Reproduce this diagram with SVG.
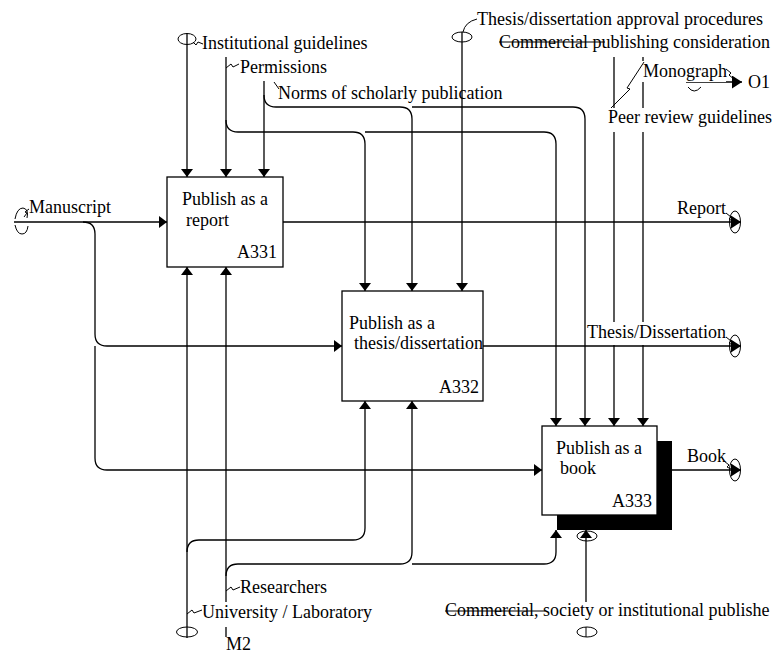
<svg xmlns="http://www.w3.org/2000/svg" width="773" height="655" viewBox="0 0 773 655">
<style>
  .t { font-family: "Liberation Serif", "Times New Roman", serif; font-size: 18px; fill: #000; }
  .ln { fill: none; stroke: #000; stroke-width: 1.3; }
  .thin { fill: none; stroke: #000; stroke-width: 1; }
  .box { fill: #fff; stroke: #000; stroke-width: 1.3; }
  .bg { fill: #fff; stroke: none; }
</style>
<defs>
  <marker id="ah" viewBox="0 0 8 12" refX="8" refY="6" markerWidth="8" markerHeight="12" markerUnits="userSpaceOnUse" orient="auto">
    <path d="M0,0 L8,6 L0,12 z" fill="#000"/>
  </marker>
  <marker id="ahb" viewBox="0 0 10 13" refX="10" refY="6.5" markerWidth="10" markerHeight="13" markerUnits="userSpaceOnUse" orient="auto">
    <path d="M0,0 L10,6.5 L0,13 z" fill="#000"/>
  </marker>
</defs>
<rect width="773" height="655" fill="#fff"/>

<g id="connectors">
  <!-- controls -->
  <path class="ln" d="M187,33 V177" marker-end="url(#ah)"/>
  <path class="ln" d="M226,57 V177" marker-end="url(#ah)"/>
  <path class="ln" d="M226,120 Q226,132 238,132 H353 Q365,132 365,144 V291" marker-end="url(#ah)"/>
  <path class="ln" d="M365,132 H544 Q556,132 556,144 V426" marker-end="url(#ah)"/>
  <path class="ln" d="M264,81 V177" marker-end="url(#ah)"/>
  <path class="ln" d="M264,95 Q264,107 276,107 H400 Q412,107 412,119 V291" marker-end="url(#ah)"/>
  <path class="ln" d="M412,107 H573 Q585,107 585,119 V426" marker-end="url(#ah)"/>
  <path class="ln" d="M462,32 V291" marker-end="url(#ah)"/>
  <path class="ln" d="M614,57 V426" marker-end="url(#ah)"/>
  <path class="ln" d="M643,57 V426" marker-end="url(#ah)"/>
  <!-- inputs -->
  <path class="ln" d="M14,222 H167" marker-end="url(#ah)"/>
  <path class="ln" d="M83,222 Q95,222 95,234 V334 Q95,346 107,346 H342" marker-end="url(#ah)"/>
  <path class="ln" d="M95,346 V458 Q95,470 107,470 H542" marker-end="url(#ah)"/>
  <!-- outputs -->
  <path class="ln" d="M283,222 H741" marker-end="url(#ahb)"/>
  <path class="ln" d="M483,346 H741" marker-end="url(#ahb)"/>
  <path class="ln" d="M672,470 H741" marker-end="url(#ahb)"/>
  <path class="ln" d="M686,82 H742" marker-end="url(#ahb)"/>
  <!-- mechanisms -->
  <path class="ln" d="M187,638 V267" marker-end="url(#ah)"/>
  <path class="ln" d="M187,552 Q187,540 199,540 H353 Q365,540 365,528 V401" marker-end="url(#ah)"/>
  <path class="ln" d="M226,637 V267" marker-end="url(#ah)"/>
  <path class="ln" d="M226,576 Q226,564 238,564 H400 Q412,564 412,552 V401" marker-end="url(#ah)"/>
  <path class="ln" d="M412,564 H544 Q556,564 556,552 V530" marker-end="url(#ah)"/>
  <path class="ln" d="M586,602 V530" marker-end="url(#ah)"/>
</g>

<g id="A331">
  <rect class="box" x="167" y="177" width="116" height="90"/>
  <text class="t" x="182" y="205">Publish as a</text>
  <text class="t" x="186" y="226">report</text>
  <text class="t" x="277" y="258" text-anchor="end">A331</text>
</g>

<g id="A332">
  <rect class="box" x="342" y="291" width="141" height="110"/>
  <text class="t" x="349" y="329">Publish as a</text>
  <text class="t" x="354" y="349">thesis/dissertation</text>
  <text class="t" x="479" y="393" text-anchor="end">A332</text>
</g>

<g id="A333">
  <rect x="557" y="441" width="115" height="89" fill="#000"/>
  <rect class="box" x="542" y="426" width="115" height="89"/>
  <text class="t" x="556" y="454">Publish as a</text>
  <text class="t" x="560" y="474">book</text>
  <text class="t" x="652" y="507" text-anchor="end">A333</text>
</g>

<g id="label-institutional">
  <ellipse class="thin" cx="187" cy="39" rx="9" ry="5.5"/>
  <path class="thin" d="M193,42 L196,45 L198,42 L203,44"/>
  <text class="t" x="202" y="49">Institutional guidelines</text>
</g>
<g id="label-permissions">
  <path class="thin" d="M226,68 L231,64 L233,67 L239,64"/>
  <text class="t" x="240" y="73">Permissions</text>
</g>
<g id="label-norms">
  <path class="thin" d="M274,82 L279,89"/>
  <text class="t" x="278" y="99">Norms of scholarly publication</text>
</g>
<g id="label-thesis-approval">
  <ellipse class="thin" cx="462" cy="37" rx="10" ry="5"/>
  <path class="thin" d="M463,32 Q465,22 477,19"/>
  <text class="t" x="477" y="25">Thesis/dissertation approval procedures</text>
</g>
<g id="label-commercial-publishing">
  <rect class="bg" x="498" y="32" width="275" height="20"/>
  <text class="t" x="499" y="48">Commercial publishing consideration</text>
  <path class="thin" d="M499,42 H605"/>
</g>
<g id="label-monograph">
  <rect class="bg" x="641" y="61" width="85" height="21"/>
  <text class="t" x="643" y="77">Monograph</text>
  <path class="thin" d="M644,62 L627,88 L630,89 L610,109"/>
  <path class="thin" d="M726,69 L731,73 L729,75 L735,80"/>
  <path class="thin" d="M688,87 Q694,95 701,87"/>
  <text class="t" x="748" y="88">O1</text>
</g>
<g id="label-peer-review">
  <rect class="bg" x="608" y="108" width="165" height="24"/>
  <text class="t" x="608" y="123">Peer review guidelines</text>
</g>
<g id="label-manuscript">
  <path class="thin" d="M15,219 Q17,208 23,208 Q29,209 27,218"/>
  <path class="thin" d="M15,225 Q17,234 22,234 Q27,234 28,226"/>
  <path class="thin" d="M24,217 L27,213 L25,212 L29,209"/>
  <text class="t" x="29" y="213">Manuscript</text>
</g>
<g id="label-report">
  <text class="t" x="677" y="214">Report</text>
  <path class="thin" d="M726,213 L731,217 L729,219 L734,222"/>
  <ellipse class="thin" cx="735" cy="222" rx="5.5" ry="11"/>
</g>
<g id="label-thesis-dissertation">
  <rect class="bg" x="586" y="322" width="140" height="23"/>
  <text class="t" x="587" y="338">Thesis/Dissertation</text>
  <path class="thin" d="M726,337 L731,341 L729,343 L734,346"/>
  <ellipse class="thin" cx="735" cy="346" rx="5.5" ry="11"/>
</g>
<g id="label-book">
  <text class="t" x="687" y="462">Book</text>
  <path class="thin" d="M724,461 L729,465 L727,467 L733,470"/>
  <ellipse class="thin" cx="735" cy="470" rx="5.5" ry="11"/>
</g>
<g id="label-researchers">
  <path class="thin" d="M226,591 L231,587 L233,590 L240,587"/>
  <text class="t" x="240" y="593">Researchers</text>
</g>
<g id="label-university">
  <rect class="bg" x="201" y="602" width="170" height="25"/>
  <path class="thin" d="M187,614 L192,610 L194,613 L202,610"/>
  <text class="t" x="202" y="618">University / Laboratory</text>
  <ellipse class="thin" cx="187" cy="632" rx="10.5" ry="5"/>
  <text class="t" x="226" y="650">M2</text>
</g>
<g id="label-commercial-society">
  <ellipse class="thin" cx="587" cy="536" rx="10" ry="5"/>
  <text class="t" x="445" y="616">Commercial, society or institutional publishe</text>
  <path class="thin" d="M445,611 H545"/>
  <ellipse class="thin" cx="587" cy="632" rx="10" ry="5"/>
  <path class="thin" d="M586,627 V637"/>
</g>
</svg>
